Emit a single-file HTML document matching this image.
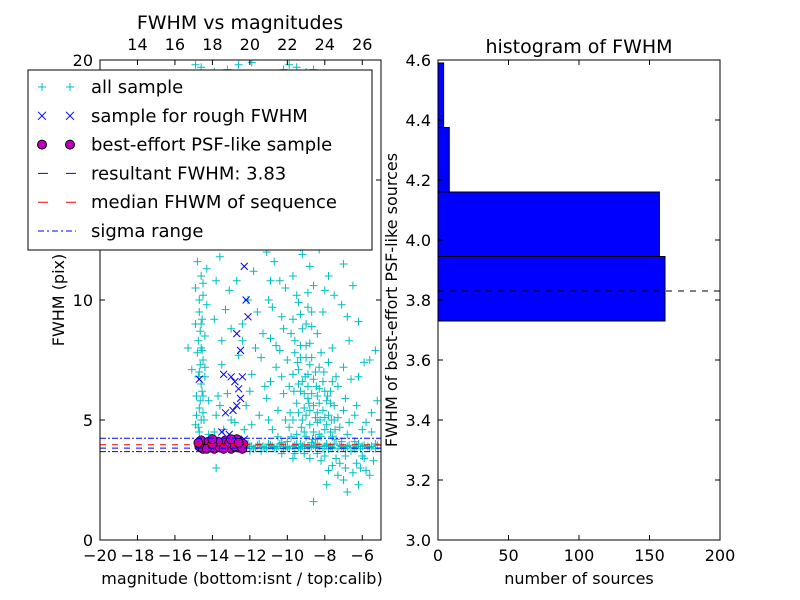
<!DOCTYPE html>
<html><head><meta charset="utf-8"><style>
body{margin:0;background:#fff;}
svg{display:block;font-family:"DejaVu Sans","Liberation Sans",sans-serif;}
</style></head><body>
<svg id="c" width="800" height="600" viewBox="0 0 800 600"></svg>
<script>
const allPts=[[-14.7,4.5],[-14.6,5],[-14.7,5.5],[-14.5,6],[-14.6,6.5],[-14.7,7],[-14.5,7.5],[-14.6,8],[-14.4,8.5],[-14.6,9],[-14.7,9.5],[-14.5,10.2],[-14.6,11],[-14.8,11.6],[-15.3,8],[-14.9,4.8],[-14.4,6.8],[-14.8,7.8],[-14.5,5.3],[-14.6,4.2],[-14.3,9.8],[-14.9,10.5],[-14.2,5.8],[-15.1,7.1],[-14.6,12.3],[-14.5,13.2],
[-13.8,5.2],[-13.2,6.1],[-13.5,7.3],[-12.8,4.9],[-13.9,9.2],[-13.1,10.4],[-12.4,8.3],[-13.6,11.8],[-12.9,12.6],[-12.2,5.6],[-11.9,6.9],[-12.6,7.7],[-13.4,4.6],[-11.6,9.5],[-11.8,11.2],[-12.1,10.0],[-13.0,8.8],[-11.5,5.2],[-11.2,6.4],[-11.4,7.6],
[-10.8,4.6],[-10.5,5.4],[-10.2,6.1],[-10.6,7.2],[-10.9,8.4],[-10.3,9.3],[-10.1,10.5],[-10.7,11.6],[-9.8,4.3],[-9.7,5.0],[-9.5,5.7],[-9.9,6.4],[-9.4,7.1],[-9.6,7.8],[-9.8,8.6],[-9.3,9.4],[-9.5,10.2],[-9.7,11.0],[-9.2,11.9],[-9.0,12.8],[-9.1,4.5],[-9.0,5.2],[-8.9,5.9],[-9.2,6.6],[-8.8,7.3],[-9.0,8.1],[-8.7,8.9],[-8.9,9.7],[-8.6,10.6],[-8.8,11.4],[-8.5,4.2],[-8.4,4.9],[-8.6,5.6],[-8.3,6.3],[-8.5,7.0],[-8.2,7.8],[-8.4,8.6],[-8.1,9.5],[-8.3,4.4],[-8.0,5.1],[-7.9,5.8],[-8.1,6.6],[-7.8,7.4],[-7.6,4.3],[-7.5,5.0],[-7.7,5.7],[-7.3,6.4],[-7.2,4.7],[-7.0,5.4],[-6.8,4.4],[-6.6,3.7],[-6.3,3.2],[-6.0,3.5],[-5.8,2.9],[-5.4,3.3],[-6.9,3.0],[-7.4,3.4],[-7.8,2.9],[-8.2,3.3],[-8.6,1.6],[-7.0,2.5],[-6.2,2.3],[-5.2,5.8],[-5.5,5.3],[-6.3,5.6],[-10.0,4.1],[-9.3,4.0],[-8.7,3.9],[-7.9,4.0],[-9.6,3.6],[-11.4,3.7],[-13.8,3.0],[-12.0,3.7],[-10.6,3.8],[-6.4,4.1],[-5.7,3.9],[-5.3,4.0],[-6.9,5.9],[-7.4,6.8],[-7.6,8.0],[-7.0,7.2],[-10.0,12.3],[-10.5,13.5],[-9.4,13.0],[-8.3,12.1],[-7.8,11.0],[-7.1,9.8],[-8.0,10.4],[-9.9,14.0],[-9.2,14.5],[-10.3,15.2],[-9.6,15.8],[-8.7,15.0],[-11.4,14.3],[-12.3,15.5],[-11.0,16.4],[-13.3,15.0],[-14.1,14.1],[-12.7,14.6],[-9.9,19.8],[-10.2,19.6],[-9.5,19.7],[-13.2,19.6],[-14.6,19.7],[-11.9,19.9],[-7.5,10.2],[-6.7,8.3],[-6.2,6.8],[-5.6,7.5],[-8.9,6.9],[-9.1,5.5],[-8.8,4.8],[-9.3,6.2],[-8.4,5.3],[-8.7,6.1],[-9.0,7.6],[-8.6,4.5],[-8.3,5.7],[-9.4,5.3],[-8.0,4.6],[-7.7,6.2],[-8.8,8.2],[-9.2,8.8],
[-9.9,4.7],[-9.7,6.9],[-9.5,4.4],[-9.4,6.5],[-9.3,7.6],[-9.2,5.0],[-9.1,6.1],[-9.0,4.3],[-8.9,6.4],[-8.8,5.4],[-8.7,7.6],[-8.6,6.7],[-8.5,5.1],[-8.4,6.0],[-8.3,7.2],[-8.2,4.3],[-8.1,5.4],[-8.0,6.2],[-7.9,4.8],[-7.8,5.2],[-7.7,4.5],[-7.6,6.6],[-7.5,5.6],[-7.4,4.2],[-7.3,5.1],[-9.85,5.3],[-9.65,6.2],[-9.45,7.4],[-9.25,4.7],[-9.05,6.8],[-8.85,5.7],[-8.65,4.2],[-8.45,6.4],[-8.25,5.0],[-8.05,7.0],[-7.85,6.0],[-7.65,5.0],[-7.45,4.6],[-9.6,8.3],[-9.3,8.1],[-9.0,9.0],[-8.7,9.5],[-9.4,9.9],[-8.9,10.3],[-9.7,9.2],[-10.0,7.5],[-10.2,8.8],[-10.4,7.9],[-10.4,10.8],[-10.8,9.7],[-10.9,10.8],[-11.1,12.0],[-10.6,12.9],[-9.8,12.8],[-9.3,12.2],[-8.5,13.5],[-8.1,13.8],[-8.9,13.6],[-7.3,12.6],[-7.0,11.5],[-6.5,10.6],[-6.8,9.3],[-6.2,9.1],[-5.9,7.4],[-5.3,7.9],[-6.6,6.7],[-6.4,5.2],[-6.0,4.6],[-5.8,4.9],[-5.5,4.5],[-6.7,4.9],[-7.1,4.1],[-6.9,3.5],[-7.2,3.2],[-7.6,3.1],[-8.0,3.5],[-8.4,3.6],[-8.8,3.4],[-6.5,2.8],[-6.1,3.0],[-5.9,3.4],[-5.6,2.7],[-7.3,2.7],[-7.9,2.3],[-6.8,2.0],[-10.3,3.6],[-9.7,3.4],[-9.1,3.6],[-10.5,4.3],[-11.0,5.0],[-11.1,5.9],[-10.9,6.6],[-10.1,5.0],[-10.3,6.8],[-10.6,8.1],[-11.3,8.6],[-11.0,10.0],[-12.0,12.8],[-11.6,13.6],[-10.8,14.8],[-11.7,17.2],[-12.2,17.6],[-14.3,15.8],[-14.7,16.5],[-15.0,15.1],[-10.1,17.3],[-10.6,18.3],[-9.4,17.0],[-8.8,18.9],[-9.0,19.5],[-8.6,19.6],[-12.6,19.8],[-13.9,19.5],[-14.9,19.8],
[-14.75,4.7],[-14.65,5.8],[-14.55,6.2],[-14.75,6.8],[-14.65,7.3],[-14.55,7.9],[-14.75,8.3],[-14.65,8.7],[-14.55,9.2],[-14.45,5.0],[-14.85,5.2],[-14.85,6.0],[-14.4,7.2],[-14.7,10.0],[-14.5,10.7],[-14.9,9.0],[-14.3,11.3],[-14.7,12.8],[-14.4,14.0],[-14.2,4.4],[-13.9,4.5],
[-13.7,6.0],[-13.5,8.3],[-13.3,9.6],[-13.8,10.8],[-12.4,9.0],[-12.0,6.2],[-11.7,8.0],[-11.9,4.8],[-12.3,4.6],[-13.0,5.0],[-13.6,5.6],[-12.7,10.8],[-12.2,13.6],[-13.3,13.9],[-13.8,12.9],[-13.0,15.6],
[-12.0,3.9],[-11.6,3.95],[-11.2,3.85],[-10.8,3.9],[-10.4,4.0],[-10.0,3.85],[-9.6,3.95],[-9.2,3.9],[-8.8,3.85],[-8.4,4.0],[-8.0,3.9],[-7.6,3.85],[-7.2,3.95],[-6.8,3.9],[-6.4,3.8],[-6.0,3.9],[-5.6,3.85],[-5.2,3.95],[-11.8,3.8],[-11.0,4.0],[-10.2,3.8],[-9.4,3.85],[-8.6,3.95],[-7.8,3.8],[-7.0,3.85],[-6.2,4.0],
[-12.3,3.85],[-12.1,4.0],[-11.9,3.9],[-11.7,3.85],[-11.5,4.0],[-11.3,3.9],[-11.1,3.8],[-10.9,3.95],[-10.7,3.85],[-10.5,3.9],[-10.3,4.05],[-10.1,3.9],[-9.9,3.8],[-9.7,3.9],[-9.5,4.0],[-9.3,3.8],[-9.1,3.95],[-8.9,3.9],[-8.7,4.05],[-8.5,3.85],[-8.3,3.9],[-8.1,3.8],[-7.9,3.95],[-7.7,3.9],[-7.5,4.0],[-7.3,3.8],[-7.1,3.9],[-6.9,3.8],[-6.7,3.95],[-6.5,3.85],[-6.3,3.9],[-6.1,3.8],[-5.9,3.95],[-5.5,3.9],[-5.3,3.8]];
const roughPts=[[-13.2,12.6],[-12.3,11.4],[-12.2,10.0],[-12.1,9.3],[-12.7,8.6],[-12.5,7.9],[-13.4,6.9],[-13.0,6.8],[-12.8,6.6],[-12.6,6.3],[-12.5,5.9],[-12.7,5.6],[-13.3,5.3],[-12.9,5.4],[-14.7,6.7],[-13.5,4.5],[-13.1,4.4],[-12.3,4.2],[-14.6,4.1],[-12.4,6.8]];
const psfPts=[[-14.7,3.9],[-14.4,4.0],[-14.1,3.85],[-13.8,3.95],[-13.5,4.05],[-13.2,3.9],[-12.9,4.0],[-12.6,3.85],[-12.5,4.1],[-14.6,4.15],[-14.2,4.1],[-13.9,3.8],[-13.6,3.85],[-13.3,4.15],[-13.0,3.8],[-12.7,4.2],[-12.45,3.9],[-14.5,3.8],[-13.7,4.1],[-13.1,4.05],[-14.75,4.05],[-14.3,3.8],[-14.0,4.0],[-13.4,3.8],[-12.8,3.9],[-12.35,4.0],[-12.4,3.8],[-14.0,4.2],[-13.0,4.2],[-12.6,4.05]];
const resultFWHM=3.83, medianFWHM=3.97, sigmaLo=3.68, sigmaHi=4.24;
const binEdges=[3.73,3.945,4.16,4.375,4.59];
const binCounts=[161,157,8,4];
const xTicksBottom=[-20,-18,-16,-14,-12,-10,-8,-6];
const xTicksTop=[14,16,18,20,22,24,26];
const yTicksLeft=[0,5,10,15,20];
const yTicksHist=[3.0,3.2,3.4,3.6,3.8,4.0,4.2,4.4,4.6];
const xTicksHist=[0,50,100,150,200];

const NS='http://www.w3.org/2000/svg', svg=document.getElementById('c');
function el(t,a,p){const e=document.createElementNS(NS,t);for(const k in a)e.setAttribute(k,a[k]);(p||svg).appendChild(e);return e;}
function txt(s,a,p){const e=el('text',a,p);e.textContent=s;return e;}
const L={x0:100,x1:381,y0:540,y1:60,xmin:-20,xmax:-5,ymin:0,ymax:20};
const lx=v=>L.x0+(v-L.xmin)/(L.xmax-L.xmin)*(L.x1-L.x0);
const ly=v=>L.y0-(v-L.ymin)/(L.ymax-L.ymin)*(L.y0-L.y1);
const calib2x=c=>lx(c-32);
const R={x0:438,x1:720,y0:540,y1:60,xmin:0,xmax:200,ymin:3.0,ymax:4.6};
const rx=v=>R.x0+(v-R.xmin)/(R.xmax-R.xmin)*(R.x1-R.x0);
const ry=v=>R.y0-(v-R.ymin)/(R.ymax-R.ymin)*(R.y0-R.y1);

const clipL=el('clipPath',{id:'clipL'});el('rect',{x:L.x0,y:L.y1,width:L.x1-L.x0,height:L.y0-L.y1},clipL);
const gL=el('g',{'clip-path':'url(#clipL)'});


const gAll=el('g',{stroke:'#00bfbf','stroke-width':1},gL);
allPts.forEach(p=>{const x=lx(p[0]),y=ly(p[1]);const m=el('path',{d:`M${x-4} ${y}H${x+4}M${x} ${y-4}V${y+4}`},gAll);

});
const gR=el('g',{stroke:'#0000ff','stroke-width':1},gL);
roughPts.forEach(p=>{const x=lx(p[0]),y=ly(p[1]);const m=el('path',{d:`M${x-3.5} ${y-3.5}L${x+3.5} ${y+3.5}M${x-3.5} ${y+3.5}L${x+3.5} ${y-3.5}`},gR);

});
const gP=el('g',{fill:'#bf00bf',stroke:'#000','stroke-width':0.8},gL);
psfPts.forEach(p=>{const m=el('circle',{cx:lx(p[0]),cy:ly(p[1]),r:4.5},gP);

});
function hline(v,col,dash,name){const l=el('line',{x1:L.x0,x2:L.x1,y1:ly(v),y2:ly(v),stroke:col,'stroke-width':1,'stroke-dasharray':dash},gL);

}
hline(sigmaHi,'#0000ff','6 2 2 2','sigma-high-line');
hline(medianFWHM,'#ff0000','6 6','median-line');
hline(resultFWHM,'#0000ff','6 6','resultant-line');
hline(sigmaLo,'#0000ff','6 2 2 2','sigma-low-line');
el('rect',{x:L.x0,y:L.y1,width:L.x1-L.x0,height:L.y0-L.y1,fill:'none',stroke:'#000','stroke-width':1});
const fs=16;
xTicksBottom.forEach(v=>{const x=lx(v);el('path',{d:`M${x} ${L.y0}v-5M${x} ${L.y1}v5`,stroke:'#000'});txt('\u2212'+Math.abs(v),{x:x,y:L.y0+21,'font-size':fs,'text-anchor':'middle'});});
xTicksTop.forEach(v=>{const x=calib2x(v);txt(String(v),{x:x,y:L.y1-10,'font-size':fs,'text-anchor':'middle'});});
yTicksLeft.forEach(v=>{const y=ly(v);el('path',{d:`M${L.x0} ${y}h5M${L.x1} ${y}h-5`,stroke:'#000'});txt(String(v),{x:L.x0-7,y:y+6,'font-size':fs,'text-anchor':'end'});});
txt('FWHM vs magnitudes',{x:240,y:29,'font-size':19,'text-anchor':'middle',});
txt('magnitude (bottom:isnt / top:calib)',{x:242,y:584,'font-size':16,'text-anchor':'middle',});
txt('FWHM (pix)',{x:0,y:0,'font-size':16,'text-anchor':'middle',transform:'translate(64,300) rotate(-90)',});
const lg=el('g',{});
el('rect',{x:28,y:70,width:344,height:180,fill:'#fff',stroke:'#000'},lg);
const rows=['all sample','sample for rough FWHM','best-effort PSF-like sample','resultant FWHM: 3.83','median FHWM of sequence','sigma range'];
rows.forEach((s,i)=>{const y=87+i*28.8;const m1=42,m2=70;
 if(i==0){[m1,m2].forEach(x=>el('path',{d:`M${x-4} ${y}H${x+4}M${x} ${y-4}V${y+4}`,stroke:'#00bfbf'},lg));}
 if(i==1){[m1,m2].forEach(x=>el('path',{d:`M${x-4} ${y-4}L${x+4} ${y+4}M${x-4} ${y+4}L${x+4} ${y-4}`,stroke:'#0000ff'},lg));}
 if(i==2){[m1,m2].forEach(x=>el('circle',{cx:x,cy:y,r:4.5,fill:'#bf00bf',stroke:'#000'},lg));}
 if(i==3||i==4){el('line',{x1:38,x2:76,y1:y,y2:y,stroke:i==3?'#0000ff':'#ff0000','stroke-dasharray':'10 18 10'},lg);}
 if(i==5){el('line',{x1:38,x2:76,y1:y,y2:y,stroke:'#0000ff','stroke-dasharray':'6 3 2 3'},lg);}
 const t=txt(s,{x:91,y:y+6,'font-size':18},lg);
 
 
});
const gH=el('g',{});
binCounts.forEach((c,i)=>{const r=el('rect',{x:rx(0),y:ry(binEdges[i+1]),width:rx(c)-rx(0),height:ry(binEdges[i])-ry(binEdges[i+1]),fill:'#0000ff',stroke:'#000','stroke-width':1},gH);

});
el('line',{x1:R.x0,x2:R.x1,y1:ry(resultFWHM),y2:ry(resultFWHM),stroke:'#000','stroke-dasharray':'6 6',});
el('rect',{x:R.x0,y:R.y1,width:R.x1-R.x0,height:R.y0-R.y1,fill:'none',stroke:'#000'});
xTicksHist.forEach(v=>{const x=rx(v);el('path',{d:`M${x} ${R.y0}v-5M${x} ${R.y1}v5`,stroke:'#000'});txt(String(v),{x:x,y:R.y0+21,'font-size':fs,'text-anchor':'middle'});});
yTicksHist.forEach(v=>{const y=ry(v);el('path',{d:`M${R.x0} ${y}h5M${R.x1} ${y}h-5`,stroke:'#000'});txt(v.toFixed(1),{x:R.x0-7,y:y+6,'font-size':fs,'text-anchor':'end'});});
txt('histogram of FWHM',{x:579,y:53,'font-size':19,'text-anchor':'middle',});
txt('number of sources',{x:579,y:584,'font-size':16,'text-anchor':'middle',});
txt('FWHM of best-effort PSF-like sources',{x:0,y:0,'font-size':16,'text-anchor':'middle',transform:'translate(397,300) rotate(-90)',});
</script>
</body></html>
